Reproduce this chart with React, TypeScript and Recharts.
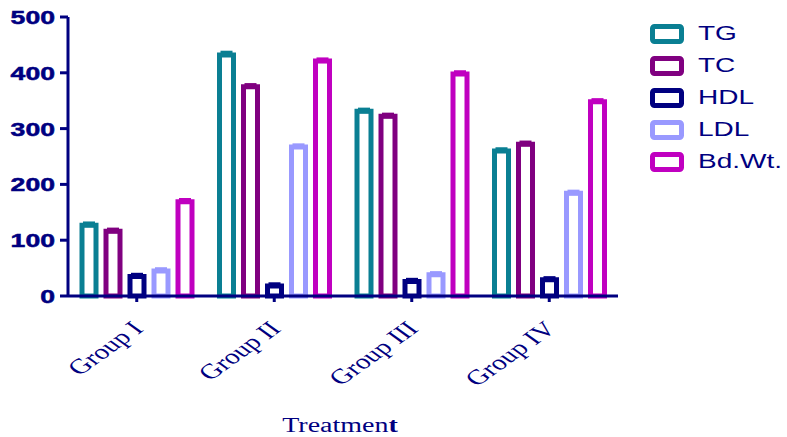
import React from 'react';
import { BarChart, Bar, XAxis, YAxis, ErrorBar } from 'recharts';

const categories = ['Group I', 'Group II', 'Group III', 'Group IV'];
const seriesNames = ['TG', 'TC', 'HDL', 'LDL', 'Bd.Wt.'];
const seriesColors = ['#0a7f93', '#800080', '#000080', '#9999ff', '#c000c0'];

const TG = [127, 432, 331, 260];
const TC = [116, 375, 322, 272];
const HDL = [35, 18, 26, 29];
const LDL = [45, 267, 38, 184];
const BdWt = [169, 421, 398, 348];

const TGErr = [3, 4, 3, 3];
const TCErr = [3, 3, 3, 3];
const HDLErr = [3, 3, 3, 3];
const LDLErr = [3, 3, 3, 3];
const BdWtErr = [3, 3, 3, 3];

const yTicks = [0, 100, 200, 300, 400, 500];

const seriesValues = [TG, TC, HDL, LDL, BdWt];
const seriesErrors = [TGErr, TCErr, HDLErr, LDLErr, BdWtErr];

const data = categories.map((c, i) => {
  const row: any = { name: c };
  seriesNames.forEach((_, j) => {
    row['s' + j] = seriesValues[j][i];
    row['e' + j] = [0, seriesErrors[j][i]];
  });
  return row;
});

const NAVY = '#000080';
const SX = 1.4;

const YTick = (props: any) => {
  const { x, y, payload } = props;
  return (
    <g transform={`translate(${x},${y}) scale(${SX},1)`}>
      <text
        x={0}
        y={0}
        dy={7}
        textAnchor="end"
        fontFamily="'Liberation Sans', Arial, sans-serif"
        fontWeight="bold"
        fontSize={19}
        fill={NAVY}
        stroke={NAVY}
        strokeWidth={0.5}
      >
        {payload.value}
      </text>
    </g>
  );
};

const XTick = (props: any) => {
  const { x, y, payload } = props;
  return (
    <g transform={`translate(${x + 8},${y + 26}) scale(${SX},1) rotate(-45)`}>
      <text
        x={0}
        y={0}
        textAnchor="end"
        fontFamily="'Liberation Serif', 'Times New Roman', serif"
        fontSize={21}
        fill={NAVY}
      >
        {payload.value}
      </text>
    </g>
  );
};

const XTitle = (props: any) => {
  const vb = props.viewBox || { x: 68, y: 296, width: 550 };
  const cx = vb.x + vb.width / 2 - 3;
  return (
    <g transform={`translate(${cx},${vb.y + 136}) scale(${SX},1)`}>
      <text
        x={0}
        y={0}
        textAnchor="middle"
        fontFamily="'Liberation Serif', 'Times New Roman', serif"
        fontSize={20}
        fill={NAVY}
      >
        Treatmen<tspan fontWeight="bold">t</tspan>
      </text>
    </g>
  );
};

export default function App() {
  return (
    <div style={{ position: 'absolute', left: 0, top: 0, width: 787, height: 437, background: '#fff' }}>
      <BarChart
        width={787}
        height={437}
        data={data}
        margin={{ top: 17, right: 169, bottom: 0, left: 0 }}
        barSize={14}
        barGap={10}
      >
        <XAxis
          dataKey="name"
          height={141}
          axisLine={{ stroke: NAVY, strokeWidth: 3 }}
          tickLine={{ stroke: NAVY, strokeWidth: 3 }}
          tickSize={6}
          tickMargin={2}
          tick={<XTick />}
          interval={0}
          label={{ content: <XTitle /> }}
        />
        <YAxis
          width={68}
          domain={[0, 500]}
          ticks={yTicks}
          axisLine={{ stroke: NAVY, strokeWidth: 3 }}
          tickLine={{ stroke: NAVY, strokeWidth: 3 }}
          tickSize={8}
          tickMargin={5}
          tick={<YTick />}
          interval={0}
        />
        {seriesNames.map((s, j) => (
          <Bar
            key={s}
            dataKey={'s' + j}
            name={s}
            fill="#ffffff"
            stroke={seriesColors[j]}
            strokeWidth={5}
            isAnimationActive={false}
          >
            <ErrorBar
              dataKey={'e' + j}
              width={6}
              stroke={seriesColors[j]}
              strokeWidth={4}
              isAnimationActive={false}
            />
          </Bar>
        ))}
      </BarChart>
      <div style={{ position: 'absolute', left: 650, top: 24 }}>
        {seriesNames.map((s, j) => (
          <div key={s} style={{ position: 'absolute', left: 0, top: j * 32, width: 130, height: 20 }}>
            <svg width={34} height={20} style={{ position: 'absolute', left: 0, top: 0 }}>
              <rect x={2.5} y={2.5} width={29} height={15} rx={2} fill="#fff" stroke={seriesColors[j]} strokeWidth={5} />
            </svg>
            <span
              style={{
                position: 'absolute',
                left: 48,
                top: -2,
                fontFamily: "'Liberation Sans', Arial, sans-serif",
                fontSize: 20,
                lineHeight: '23px',
                color: NAVY,
                whiteSpace: 'nowrap',
                transform: `scale(${SX},1)`,
                transformOrigin: 'left center',
              }}
            >
              {s}
            </span>
          </div>
        ))}
      </div>
    </div>
  );
}
